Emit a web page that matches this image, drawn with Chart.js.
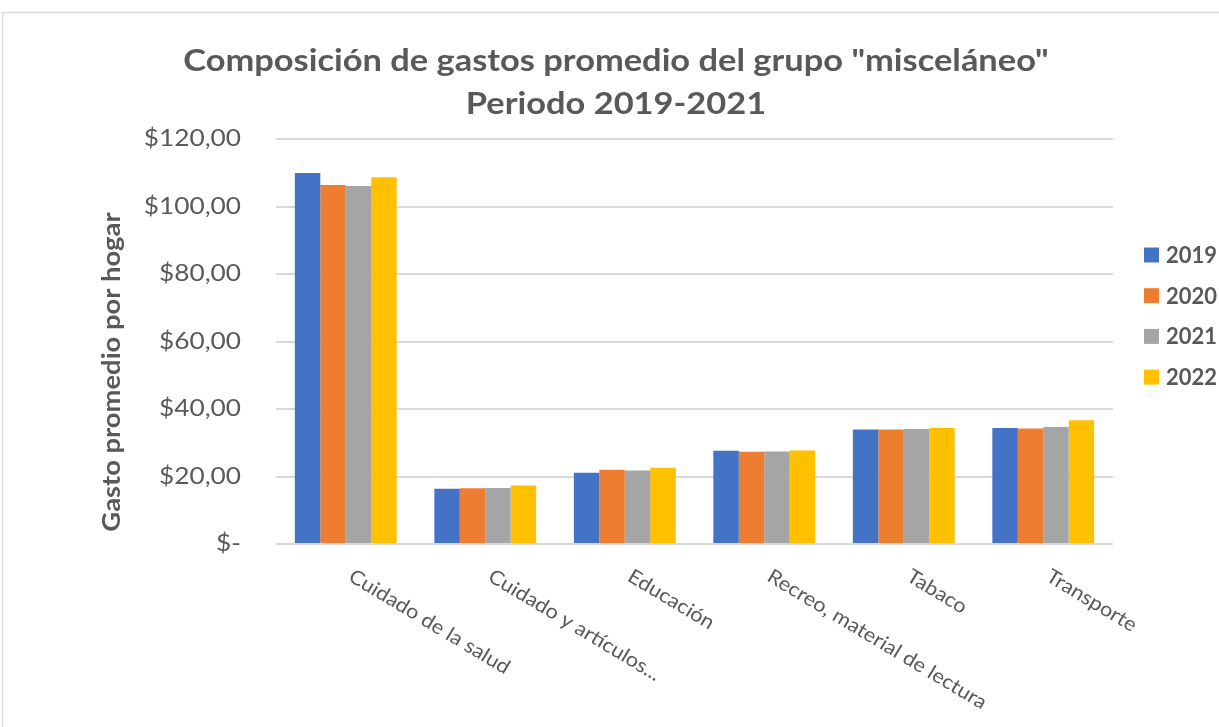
<!DOCTYPE html>
<html>
<head>
<meta charset="utf-8">
<script src="https://cdn.jsdelivr.net/npm/chart.js@4.4.0/dist/chart.umd.min.js"></script>
<style>
html,body{margin:0;padding:0;background:#fff;}
#wrap{width:1219px;height:727px;position:relative;}
</style>
</head>
<body>
<div id="wrap"><canvas id="c" width="1219" height="727"></canvas></div>
<script>
const categories = ["Cuidado de la salud", "Cuidado y artículos...", "Educación", "Recreo, material de lectura", "Tabaco", "Transporte"];
const years = ["2019", "2020", "2021", "2022"];
const v2019 = [109.9, 16.4, 21.1, 27.6, 33.9, 34.4];
const v2020 = [106.4, 16.5, 22.0, 27.3, 33.9, 34.2];
const v2021 = [106.1, 16.6, 21.8, 27.4, 34.1, 34.7];
const v2022 = [108.7, 17.3, 22.6, 27.7, 34.4, 36.7];
const colors = ["#4472C4", "#ED7D31", "#A5A5A5", "#FFC000"];
const titleLines = ['Composición de gastos promedio del grupo "misceláneo"', 'Periodo 2019-2021'];
const yTitle = "Gasto promedio por hogar";
const textColor = "#595959";
const FONT = "Lato, 'Open Sans', sans-serif";

const series = [v2019, v2020, v2021, v2022];

function fmtMoney(v) {
  return v === 0 ? '$-' : '$' + v.toFixed(2).replace('.', ',');
}

function stretchedText(ctx, text, x, y, sx, rot) {
  ctx.save();
  ctx.translate(x, y);
  if (rot) ctx.rotate(rot);
  ctx.scale(sx, 1);
  ctx.fillText(text, 0, 0);
  ctx.restore();
}

const decor = {
  id: 'decor',
  beforeDraw(chart) {
    const ctx = chart.ctx;
    ctx.save();
    ctx.fillStyle = '#fff';
    ctx.fillRect(0, 0, chart.width, chart.height);
    ctx.strokeStyle = '#d9d9d9';
    ctx.lineWidth = 1.5;
    ctx.strokeRect(2.5, 12.5, 1240, 800);
    ctx.restore();
  },
  afterDraw(chart) {
    const ctx = chart.ctx;
    const xs = chart.scales.x;
    const ys = chart.scales.y;
    ctx.save();
    ctx.fillStyle = textColor;

    // title
    ctx.font = "bold 31px " + FONT;
    ctx.textAlign = 'center';
    ctx.textBaseline = 'middle';
    titleLines.forEach((t, i) => stretchedText(ctx, t, 616, 61 + i * 43, 1.11));

    // y tick labels
    ctx.font = "23px " + FONT;
    ctx.textAlign = 'right';
    ctx.textBaseline = 'middle';
    ys.ticks.forEach(t => {
      stretchedText(ctx, fmtMoney(t.value), 241, ys.getPixelForValue(t.value), 1.14);
    });

    // x labels rotated
    ctx.font = "20px " + FONT;
    ctx.textAlign = 'left';
    ctx.textBaseline = 'top';
    categories.forEach((c, i) => {
      const px = xs.getPixelForValue(i);
      stretchedText(ctx, c, px + 10, ys.bottom + 22, 1.08, 31 * Math.PI / 180);
    });

    // y title
    ctx.font = "bold 24px " + FONT;
    ctx.textAlign = 'center';
    ctx.textBaseline = 'middle';
    stretchedText(ctx, yTitle, 112, 372, 1.14, -Math.PI / 2);

    // legend
    ctx.font = "bold 22px " + FONT;
    ctx.textAlign = 'left';
    ctx.textBaseline = 'middle';
    chart.data.datasets.forEach((ds, i) => {
      const cy = 255 + i * 40.7;
      ctx.fillStyle = ds.backgroundColor;
      ctx.fillRect(1144, cy - 7.5, 15, 15);
      ctx.fillStyle = textColor;
      ctx.fillText(ds.label, 1166, cy + 1);
    });
    ctx.restore();
  }
};

new Chart(document.getElementById('c'), {
  type: 'bar',
  data: {
    labels: categories,
    datasets: years.map((y, i) => ({
      label: y,
      data: series[i],
      backgroundColor: colors[i],
      borderWidth: 0,
      categoryPercentage: 0.73,
      barPercentage: 1.0
    }))
  },
  options: {
    responsive: false,
    animation: false,
    devicePixelRatio: 1,
    layout: { padding: { left: 0, right: 106, top: 139, bottom: 183 } },
    plugins: {
      legend: { display: false },
      tooltip: { enabled: false },
      title: { display: false }
    },
    scales: {
      x: {
        grid: { display: false, drawTicks: false },
        border: { display: false },
        ticks: { display: false }
      },
      y: {
        min: 0, max: 120,
        afterFit(scale) { scale.width = 276; },
        grid: { color: '#d9d9d9', lineWidth: 2, drawTicks: false },
        border: { display: false },
        ticks: { display: false, stepSize: 20 }
      }
    }
  },
  plugins: [decor]
});
</script>
</body>
</html>
